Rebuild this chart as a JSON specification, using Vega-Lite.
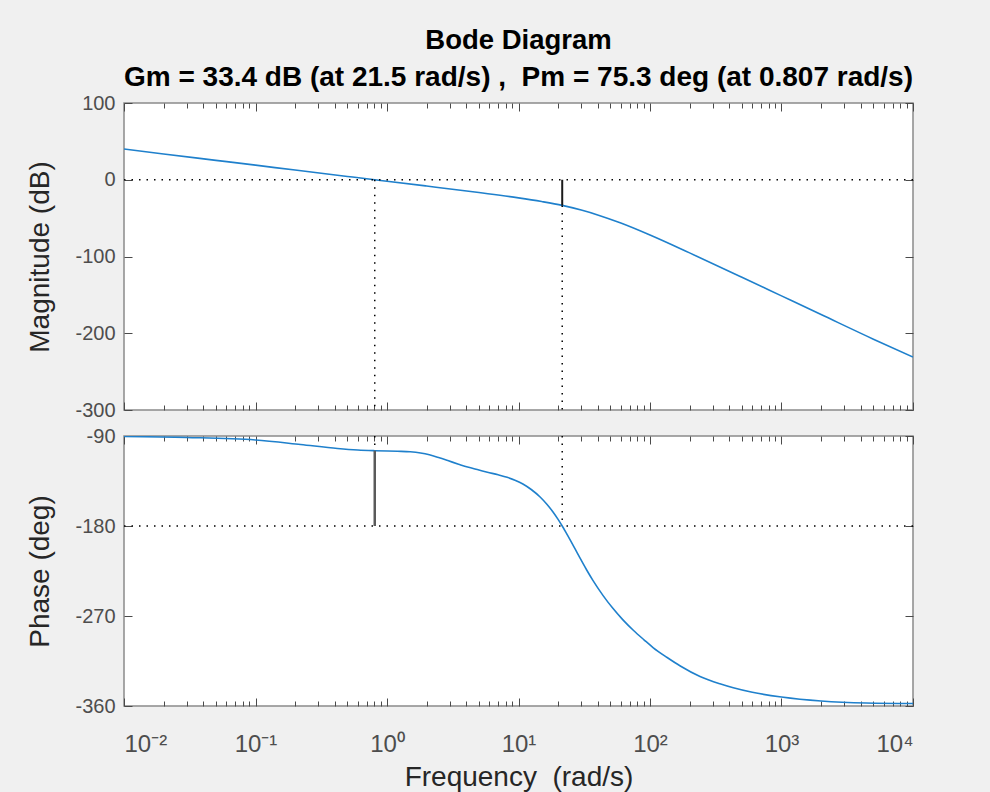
{
  "$schema": "https://vega.github.io/schema/vega-lite/v6.json",
  "background": "#f0f0f0",
  "padding": {"left": 26, "top": 25, "right": 80, "bottom": 30},
  "bounds": "flush",
  "datasets": {
    "mag": [
      {"f": 0.01, "db": 40}, {"f": 0.02, "db": 33.6}, {"f": 0.05, "db": 25.3}, {"f": 0.1, "db": 19.0},
      {"f": 0.2, "db": 12.6}, {"f": 0.5, "db": 4.3}, {"f": 0.807, "db": 0}, {"f": 1, "db": -1.9},
      {"f": 2, "db": -8.2}, {"f": 5, "db": -16.7}, {"f": 10, "db": -23.6}, {"f": 15, "db": -28.4},
      {"f": 21.5, "db": -33.4}, {"f": 30, "db": -39.5}, {"f": 40, "db": -45.8}, {"f": 60, "db": -56.4},
      {"f": 100, "db": -72}, {"f": 200, "db": -95.3}, {"f": 500, "db": -127}, {"f": 1000, "db": -151.3},
      {"f": 2000, "db": -175.6}, {"f": 5000, "db": -207.7}, {"f": 10000, "db": -231}
    ],
    "phase": [
      {"f": 0.01, "deg": -90.5}, {"f": 0.03, "deg": -91.5}, {"f": 0.1, "deg": -94}, {"f": 0.22, "deg": -98.5},
      {"f": 0.42, "deg": -102.5}, {"f": 0.6, "deg": -104}, {"f": 0.807, "deg": -104.7}, {"f": 1.2, "deg": -105.3},
      {"f": 1.5, "deg": -105.8}, {"f": 1.8, "deg": -107}, {"f": 2.1, "deg": -108.8}, {"f": 2.5, "deg": -111.8},
      {"f": 2.9, "deg": -114.6}, {"f": 3.5, "deg": -118.2}, {"f": 4.1, "deg": -121.1}, {"f": 5, "deg": -124},
      {"f": 5.8, "deg": -126.2}, {"f": 7, "deg": -128.8}, {"f": 8.2, "deg": -131.3}, {"f": 9.5, "deg": -134.4},
      {"f": 10.8, "deg": -138}, {"f": 12.5, "deg": -143.5}, {"f": 14.6, "deg": -151}, {"f": 16.5, "deg": -158.5},
      {"f": 18.3, "deg": -166}, {"f": 20, "deg": -173.4}, {"f": 21.5, "deg": -180}, {"f": 23, "deg": -186.6},
      {"f": 25, "deg": -195.1}, {"f": 27, "deg": -203.2}, {"f": 29.4, "deg": -212.2}, {"f": 33, "deg": -224},
      {"f": 37, "deg": -234.9}, {"f": 44, "deg": -249.6}, {"f": 52, "deg": -262.1}, {"f": 62, "deg": -273.6},
      {"f": 75, "deg": -284.5}, {"f": 90, "deg": -293.8}, {"f": 106, "deg": -301.8}, {"f": 135, "deg": -311.5},
      {"f": 170, "deg": -320}, {"f": 240, "deg": -330.5}, {"f": 340, "deg": -337.8}, {"f": 430, "deg": -341.8},
      {"f": 600, "deg": -346.3}, {"f": 1000, "deg": -351}, {"f": 2000, "deg": -355}, {"f": 4400, "deg": -357},
      {"f": 10000, "deg": -357.5}
    ]
  },
  "config": {
    "view": {"fill": "white", "stroke": "#8a8a8a", "strokeWidth": 1.5},
    "axis": {
      "grid": false, "domain": false, "tickColor": "#4a4a4a", "tickWidth": 1,
      "labelColor": "#4d4d4d", "labelFont": "Liberation Sans", "labelFontSize": 20,
      "titleFont": "Liberation Sans", "titleFontSize": 28, "titleFontWeight": "normal", "titleColor": "#262626"
    }
  },
  "spacing": 26,
  "vconcat": [
    {
      "width": 789, "height": 307,
      "title": {
        "text": "Bode Diagram",
        "subtitle": "Gm = 33.4 dB (at 21.5 rad/s) ,\u00a0 Pm = 75.3 deg (at 0.807 rad/s)",
        "anchor": "middle", "frame": "group",
        "font": "Liberation Sans", "fontSize": 27.5, "fontWeight": "bold", "color": "#000000",
        "subtitleFont": "Liberation Sans", "subtitleFontSize": 28, "subtitleFontWeight": "bold", "subtitleColor": "#000000",
        "subtitlePadding": 10, "offset": 1
      },
      "resolve": {"scale": {"x": "shared", "y": "shared"}, "axis": {"x": "independent", "y": "independent"}},
      "layer": [
        {
          "data": {"name": "mag"},
          "mark": {"type": "line", "color": "#1f80cc", "strokeWidth": 1.6, "interpolate": "monotone", "clip": true},
          "encoding": {
            "x": {"field": "f", "type": "quantitative", "scale": {"type": "log", "domain": [0.01, 10000], "nice": false},
              "axis": {"orient": "bottom", "values": [0.01, 0.1, 1, 10, 100, 1000, 10000], "tickSize": -8, "labels": false, "title": null}},
            "y": {"field": "db", "type": "quantitative", "scale": {"domain": [-300, 100], "nice": false, "zero": false},
              "axis": {"orient": "left", "values": [-300, -200, -100, 0, 100], "tickSize": -8, "labelPadding": 17, "labelExpr": "'' + datum.value", "title": "Magnitude (dB)", "titlePadding": 20}}
          }
        },
        {
          "data": {"values": [{"f": 0.807, "y1": 0, "y2": -300}]},
          "mark": {"type": "rule", "color": "#000000", "strokeDash": [1.5, 6], "strokeWidth": 1.5},
          "encoding": {
            "x": {"field": "f", "type": "quantitative",
              "axis": {"orient": "top", "values": [0.01, 0.1, 1, 10, 100, 1000, 10000], "tickSize": -8, "labels": false, "title": null}},
            "y": {"field": "y1", "type": "quantitative",
              "axis": {"orient": "right", "values": [-300, -200, -100, 0, 100], "tickSize": -8, "labels": false, "title": null}},
            "y2": {"field": "y2"}
          }
        },
        {
          "data": {"values": [{"f": 21.5, "y1": -33.4, "y2": -300}]},
          "mark": {"type": "rule", "color": "#000000", "strokeDash": [1.5, 6], "strokeWidth": 1.5},
          "encoding": {
            "x": {"field": "f", "type": "quantitative",
              "axis": {"orient": "top", "values": [0.02,0.03,0.04,0.05,0.06,0.07,0.08,0.09,0.2,0.3,0.4,0.5,0.6,0.7,0.8,0.9,2,3,4,5,6,7,8,9,20,30,40,50,60,70,80,90,200,300,400,500,600,700,800,900,2000,3000,4000,5000,6000,7000,8000,9000], "tickSize": -5, "labels": false, "title": null}},
            "y": {"field": "y1", "type": "quantitative", "axis": null},
            "y2": {"field": "y2"}
          }
        },
        {
          "data": {"values": [{"v": 0}]},
          "mark": {"type": "rule", "color": "#000000", "strokeDash": [1.5, 6], "strokeWidth": 1.5},
          "encoding": {
            "y": {"field": "v", "type": "quantitative", "axis": null}
          }
        },
        {
          "data": {"values": [{"f": 21.5, "y1": 0, "y2": -33.4}]},
          "mark": {"type": "rule", "color": "#1a1a1a", "strokeWidth": 2},
          "encoding": {
            "x": {"field": "f", "type": "quantitative",
              "axis": {"orient": "bottom", "values": [0.02,0.03,0.04,0.05,0.06,0.07,0.08,0.09,0.2,0.3,0.4,0.5,0.6,0.7,0.8,0.9,2,3,4,5,6,7,8,9,20,30,40,50,60,70,80,90,200,300,400,500,600,700,800,900,2000,3000,4000,5000,6000,7000,8000,9000], "tickSize": -5, "labels": false, "title": null}},
            "y": {"field": "y1", "type": "quantitative", "axis": null},
            "y2": {"field": "y2"}
          }
        }
      ]
    },
    {
      "width": 789, "height": 270,
      "resolve": {"scale": {"x": "shared", "y": "shared"}, "axis": {"x": "independent", "y": "independent"}},
      "layer": [
        {
          "data": {"name": "phase"},
          "mark": {"type": "line", "color": "#1f80cc", "strokeWidth": 1.6, "interpolate": "monotone", "clip": true},
          "encoding": {
            "x": {"field": "f", "type": "quantitative", "scale": {"type": "log", "domain": [0.01, 10000], "nice": false},
              "axis": {"orient": "bottom", "values": [0.01, 0.1, 1, 10, 100, 1000, 10000], "tickSize": -8, "labelPadding": 34, "labelFontSize": 24,
                "labelExpr": "datum.value < 0.05 ? '10⁻²' : datum.value < 0.5 ? '10⁻¹' : datum.value < 5 ? '10⁰' : datum.value < 50 ? '10¹' : datum.value < 500 ? '10²' : datum.value < 5000 ? '10³' : '10⁴'",
                "title": "Frequency \u00a0(rad/s)", "titlePadding": 7}},
            "y": {"field": "deg", "type": "quantitative", "scale": {"domain": [-360, -90], "nice": false, "zero": false},
              "axis": {"orient": "left", "values": [-360, -270, -180, -90], "tickSize": -8, "labelPadding": 17, "labelExpr": "'' + datum.value", "title": "Phase (deg)", "titlePadding": 20}}
          }
        },
        {
          "data": {"values": [{"f": 0.807, "y1": -90, "y2": -104.7}]},
          "mark": {"type": "rule", "color": "#000000", "strokeDash": [1.5, 6], "strokeWidth": 1.5},
          "encoding": {
            "x": {"field": "f", "type": "quantitative",
              "axis": {"orient": "top", "values": [0.01, 0.1, 1, 10, 100, 1000, 10000], "tickSize": -8, "labels": false, "title": null}},
            "y": {"field": "y1", "type": "quantitative",
              "axis": {"orient": "right", "values": [-360, -270, -180, -90], "tickSize": -8, "labels": false, "title": null}},
            "y2": {"field": "y2"}
          }
        },
        {
          "data": {"values": [{"f": 21.5, "y1": -90, "y2": -180}]},
          "mark": {"type": "rule", "color": "#000000", "strokeDash": [1.5, 6], "strokeWidth": 1.5},
          "encoding": {
            "x": {"field": "f", "type": "quantitative",
              "axis": {"orient": "top", "values": [0.02,0.03,0.04,0.05,0.06,0.07,0.08,0.09,0.2,0.3,0.4,0.5,0.6,0.7,0.8,0.9,2,3,4,5,6,7,8,9,20,30,40,50,60,70,80,90,200,300,400,500,600,700,800,900,2000,3000,4000,5000,6000,7000,8000,9000], "tickSize": -5, "labels": false, "title": null}},
            "y": {"field": "y1", "type": "quantitative", "axis": null},
            "y2": {"field": "y2"}
          }
        },
        {
          "data": {"values": [{"v": -180}]},
          "mark": {"type": "rule", "color": "#000000", "strokeDash": [1.5, 6], "strokeWidth": 1.5},
          "encoding": {
            "y": {"field": "v", "type": "quantitative", "axis": null}
          }
        },
        {
          "data": {"values": [{"f": 0.807, "y1": -104.7, "y2": -180}]},
          "mark": {"type": "rule", "color": "#5a5a5a", "strokeWidth": 2.5},
          "encoding": {
            "x": {"field": "f", "type": "quantitative",
              "axis": {"orient": "bottom", "values": [0.02,0.03,0.04,0.05,0.06,0.07,0.08,0.09,0.2,0.3,0.4,0.5,0.6,0.7,0.8,0.9,2,3,4,5,6,7,8,9,20,30,40,50,60,70,80,90,200,300,400,500,600,700,800,900,2000,3000,4000,5000,6000,7000,8000,9000], "tickSize": -5, "labels": false, "title": null}},
            "y": {"field": "y1", "type": "quantitative", "axis": null},
            "y2": {"field": "y2"}
          }
        }
      ]
    }
  ]
}
